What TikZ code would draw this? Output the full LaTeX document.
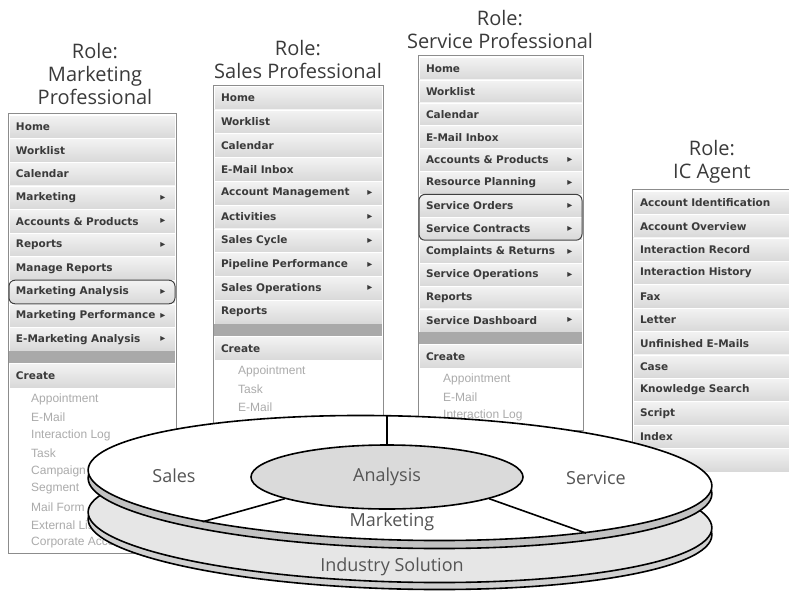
\documentclass[tikz,border=0pt]{standalone}
\usepackage{fontspec}
\usetikzlibrary{shapes.geometric}
\newfontfamily\headfont{Open Sans}
\newfontfamily\menufont{DejaVu Sans}
\newfontfamily\subfont{Liberation Sans}
\newfontfamily\symfont{DejaVu Sans}
\definecolor{Ink}{HTML}{3A3A3A}
\definecolor{Faint}{HTML}{ABABAB}
\definecolor{Frame}{HTML}{8C8C8C}
\definecolor{RowTop}{HTML}{F3F3F3}
\definecolor{RowBot}{HTML}{D8D8D8}
\definecolor{Bar}{HTML}{A9A9A9}
\definecolor{Rim}{HTML}{C2C2C2}
\definecolor{Base}{HTML}{E6E6E6}
\definecolor{BaseRim}{HTML}{D0D0D0}
\definecolor{Hub}{HTML}{DADADA}
\definecolor{Label}{HTML}{555555}
\tikzset{
 role/.style={align=center,text=Ink,font=\headfont\fontsize{20}{23}\selectfont},
 frame/.style={draw=Frame,line width=0.9pt,fill=white},
 item/.style={rectangle,anchor=north west,inner xsep=7pt,inner ysep=0pt,outer sep=0pt,align=left,top color=RowTop,bottom color=RowBot,draw=white,line width=0.5pt,text=Ink,font=\menufont\bfseries\fontsize{10.5}{12}\selectfont},
 bar/.style={rectangle,anchor=north west,inner sep=0pt,outer sep=0pt,fill=Bar,minimum height=12.5pt},
 tri/.style={inner sep=0pt,text=Ink,font=\symfont\fontsize{10}{10}\selectfont},
 sub/.style={anchor=west,inner sep=0pt,text=Faint,font=\subfont\fontsize{12}{12}\selectfont},
 hl/.style={draw=black!75,line width=1pt,rounded corners=6pt},
 rim/.style={draw=black,line width=1.6pt},
 layer/.style={ellipse,rim,rotate=-1.5,minimum width=624pt,minimum height=124pt,inner sep=0pt},
 disklabel/.style={text=Label,font=\headfont\fontsize{18}{20}\selectfont}
}
\begin{document}
\begin{tikzpicture}[x=1pt,y=-1pt]
\useasboundingbox (0,0) rectangle (789,592);
\node[role] (tmkt) at (95,74) {Role:\\Marketing\\Professional};
\node[role] (tsls) at (298,59) {Role:\\Sales Professional};
\node[role] (tsrv) at (500,29) {Role:\\Service Professional};
\node[role] (tica) at (712,162) {Role:\\IC Agent};

% marketing professional
\draw[frame] (8,113) rectangle (176,553);
\foreach \t/\a [count=\i] in {Home/0,Worklist/0,Calendar/0,Marketing/1,Accounts \& Products/1,Reports/1,Manage Reports/0,Marketing Analysis/1,Marketing Performance/1,E-Marketing Analysis/1}{
 \node[item,text width=152pt,minimum height=23.6pt] (mkt\i) at (9,{115+23.6*(\i-1)}) {\t};
 \ifnum\a=1 \node[tri] at ([xshift=-12pt]mkt\i.east) {▸};\fi}
\node[bar,minimum width=166pt] (mktbar) at (mkt10.south west) {};
\node[item,text width=152pt,minimum height=24.5pt] (mktnew) at (mktbar.south west) {Create};
\foreach \t [count=\i] in {Appointment,E-Mail,Interaction Log,Task,Campaign,Segment,Mail Form,External List,Corporate Account}
 \node[sub] (mktsub\i) at (31,{399+18*(\i-1)}) {\t};
\draw[hl] (mkt8.north west) rectangle (mkt8.south east);

% sales professional
\draw[frame] (213,85) rectangle (383,430);
\foreach \t/\a [count=\i] in {Home/0,Worklist/0,Calendar/0,E-Mail Inbox/0,Account Management/1,Activities/1,Sales Cycle/1,Pipeline Performance/1,Sales Operations/1,Reports/0}{
 \node[item,text width=154pt,minimum height=23.8pt] (sls\i) at (214,{86+23.8*(\i-1)}) {\t};
 \ifnum\a=1 \node[tri] at ([xshift=-12pt]sls\i.east) {▸};\fi}
\node[bar,minimum width=168pt] (slsbar) at (sls10.south west) {};
\node[item,text width=154pt,minimum height=24pt] (slsnew) at (slsbar.south west) {Create};
\foreach \t [count=\i] in {Appointment,Task,E-Mail}
 \node[sub] (slssub\i) at (238,{371+18*(\i-1)}) {\t};

% service professional
\draw[frame] (418,55) rectangle (583,430);
\foreach \t/\a [count=\i] in {Home/0,Worklist/0,Calendar/0,E-Mail Inbox/0,Accounts \& Products/1,Resource Planning/1,Service Orders/1,Service Contracts/1,Complaints \& Returns/1,Service Operations/1,Reports/0,Service Dashboard/1}{
 \node[item,text width=149pt,minimum height=22.9pt] (srv\i) at (419,{57+22.9*(\i-1)}) {\t};
 \ifnum\a=1 \node[tri] at ([xshift=-12pt]srv\i.east) {▸};\fi}
\node[bar,minimum width=163pt] (srvbar) at (srv12.south west) {};
\node[item,text width=149pt,minimum height=24pt] (srvnew) at (srvbar.south west) {Create};
\foreach \t [count=\i] in {Appointment,E-Mail,Interaction Log}
 \node[sub] (srvsub\i) at (443,{379+18*(\i-1)}) {\t};
\draw[hl] (srv7.north west) rectangle (srv8.south east);

% interaction center agent
\draw[frame] (632,189) rectangle (800,472);
\foreach \t [count=\i] in {Account Identification,Account Overview,Interaction Record,Interaction History,Fax,Letter,Unfinished E-Mails,Case,Knowledge Search,Script,Index,{}}
 \node[item,text width=154pt,minimum height=23.4pt] (ica\i) at (633,{191+23.4*(\i-1)}) {\t};

% layered solution disk
\node[layer,fill=BaseRim] (baserim) at (400,527) {};
\node[layer,fill=Base] (base) at (400,520) {};
\node[layer,fill=Rim] (rim) at (400,486) {};
\node[layer,fill=white] (disk) at (400,478) {};
\node[ellipse,rim,fill=Hub,minimum width=272pt,minimum height=64pt,inner sep=0pt,disklabel] (analysis) at (387,477) {Analysis};
\draw[rim] (analysis.north) -- (analysis.north |- disk.north);
\draw[rim] (analysis.192) -- (disk.194);
\draw[rim] (analysis.348) -- (disk.345);
\node[disklabel] (sales) at (174,476) {Sales};
\node[disklabel] (service) at (596,478) {Service};
\node[disklabel] (marketing) at (392,522) {Marketing};
\node[disklabel] (industry) at (392,567) {Industry Solution};
\end{tikzpicture}
\end{document}
